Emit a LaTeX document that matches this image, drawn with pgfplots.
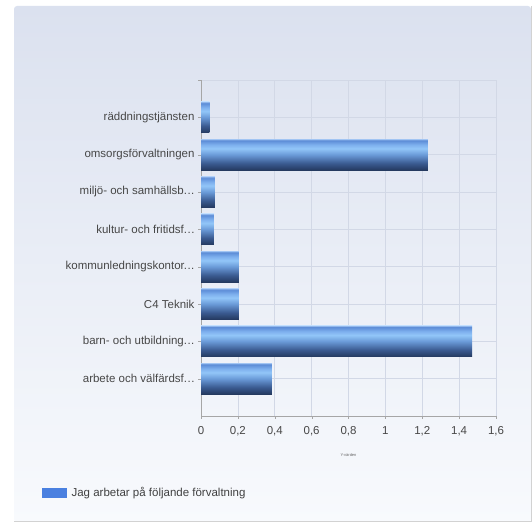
\documentclass[border=0pt]{standalone}
\usepackage{pgfplots}
\pgfplotsset{compat=1.18}
\usepackage{fontspec}
\setmainfont{Liberation Sans}
\definecolor{bgtop}{HTML}{DBE1EF}
\definecolor{bgbot}{HTML}{F8FAFD}
\definecolor{legblue}{HTML}{4A80E0}
\definecolor{gridc}{HTML}{D2D8E6}
\definecolor{sA}{HTML}{24395F}
\definecolor{sB}{HTML}{3A5A90}
\definecolor{sC}{HTML}{6A9AD8}
\definecolor{sD}{HTML}{92C6F8}
\definecolor{sE}{HTML}{7EB0EE}
\definecolor{sF}{HTML}{5B8BD6}
\definecolor{sG}{HTML}{9ABEF0}
\pgfdeclareverticalshading{barshade}{100bp}{%
  color(0bp)=(sA);
  color(25bp)=(sA);
  color(36bp)=(sB);
  color(50bp)=(sC);
  color(60bp)=(sD);
  color(66bp)=(sE);
  color(73bp)=(sF);
  color(75bp)=(sG);
  color(100bp)=(sG)}
\newcommand{\dd}{.\kern0.5pt.\kern0.5pt.}
\begin{document}
\begin{tikzpicture}
\path[use as bounding box] (0pt,0pt) rectangle (532pt,529pt);
\shade[top color=bgtop, bottom color=bgbot, rounded corners=3pt] (14pt,7pt) rectangle (531pt,523pt);
\draw[gray!35, line width=1pt] (14pt,7pt) -- (531pt,7pt) -- (531pt,523pt);
\begin{axis}[
  at={(201pt,113pt)}, anchor=origin,
  scale only axis, width=295pt, height=336pt,
  xbar, bar width=31pt, bar shift=0pt,
  xmin=0, xmax=1.6, ymin=0, ymax=9,
  axis lines=left, axis line style={-, draw=gray!70},
  tick align=outside, tick style={draw=gray!70},
  major tick length=3pt,
  xtick={0,0.2,0.4,0.6,0.8,1,1.2,1.4,1.6},
  ytick={1,2,3,4,5,6,7,8,9},
  yticklabels={{arbete och välfärdsf\dd},{barn- och utbildning\dd},{C4 Teknik},{kommunledningskontor\dd},{kultur- och fritidsf\dd},{miljö- och samhällsb\dd},{omsorgsförvaltningen},{räddningstjänsten},{}},
  grid=major, grid style={gridc, line width=0.6pt},
  /pgf/number format/assume math mode=true,
  /pgf/number format/use comma,
  tick label style={font=\fontsize{11.5}{13}\selectfont, text=black!72},
  xticklabel style={yshift=-4pt},
  xlabel={Y-värden}, xlabel style={font=\fontsize{4}{5}\selectfont, text=black!60, yshift=-11pt},
  legend style={at={(-162pt,-77pt)}, anchor=west, draw=none, fill=none, font=\fontsize{11.5}{13}\selectfont, text=black!75,
    nodes={inner xsep=5pt}},
  legend image code/.code={\fill[legblue] (0pt,-4pt) rectangle (24pt,5pt);},
  clip=false,
]
\addlegendimage{fill=legblue}
\addlegendentry{Jag arbetar på följande förvaltning}
\addplot[draw=none, shading=barshade, forget plot] coordinates {(0.385,1)};
\addplot[draw=none, shading=barshade, forget plot] coordinates {(1.47,2)};
\addplot[draw=none, shading=barshade, forget plot] coordinates {(0.205,3)};
\addplot[draw=none, shading=barshade, forget plot] coordinates {(0.205,4)};
\addplot[draw=none, shading=barshade, forget plot] coordinates {(0.07,5)};
\addplot[draw=none, shading=barshade, forget plot] coordinates {(0.075,6)};
\addplot[draw=none, shading=barshade, forget plot] coordinates {(1.23,7)};
\addplot[draw=none, shading=barshade, forget plot] coordinates {(0.045,8)};
\end{axis}
\end{tikzpicture}
\end{document}
